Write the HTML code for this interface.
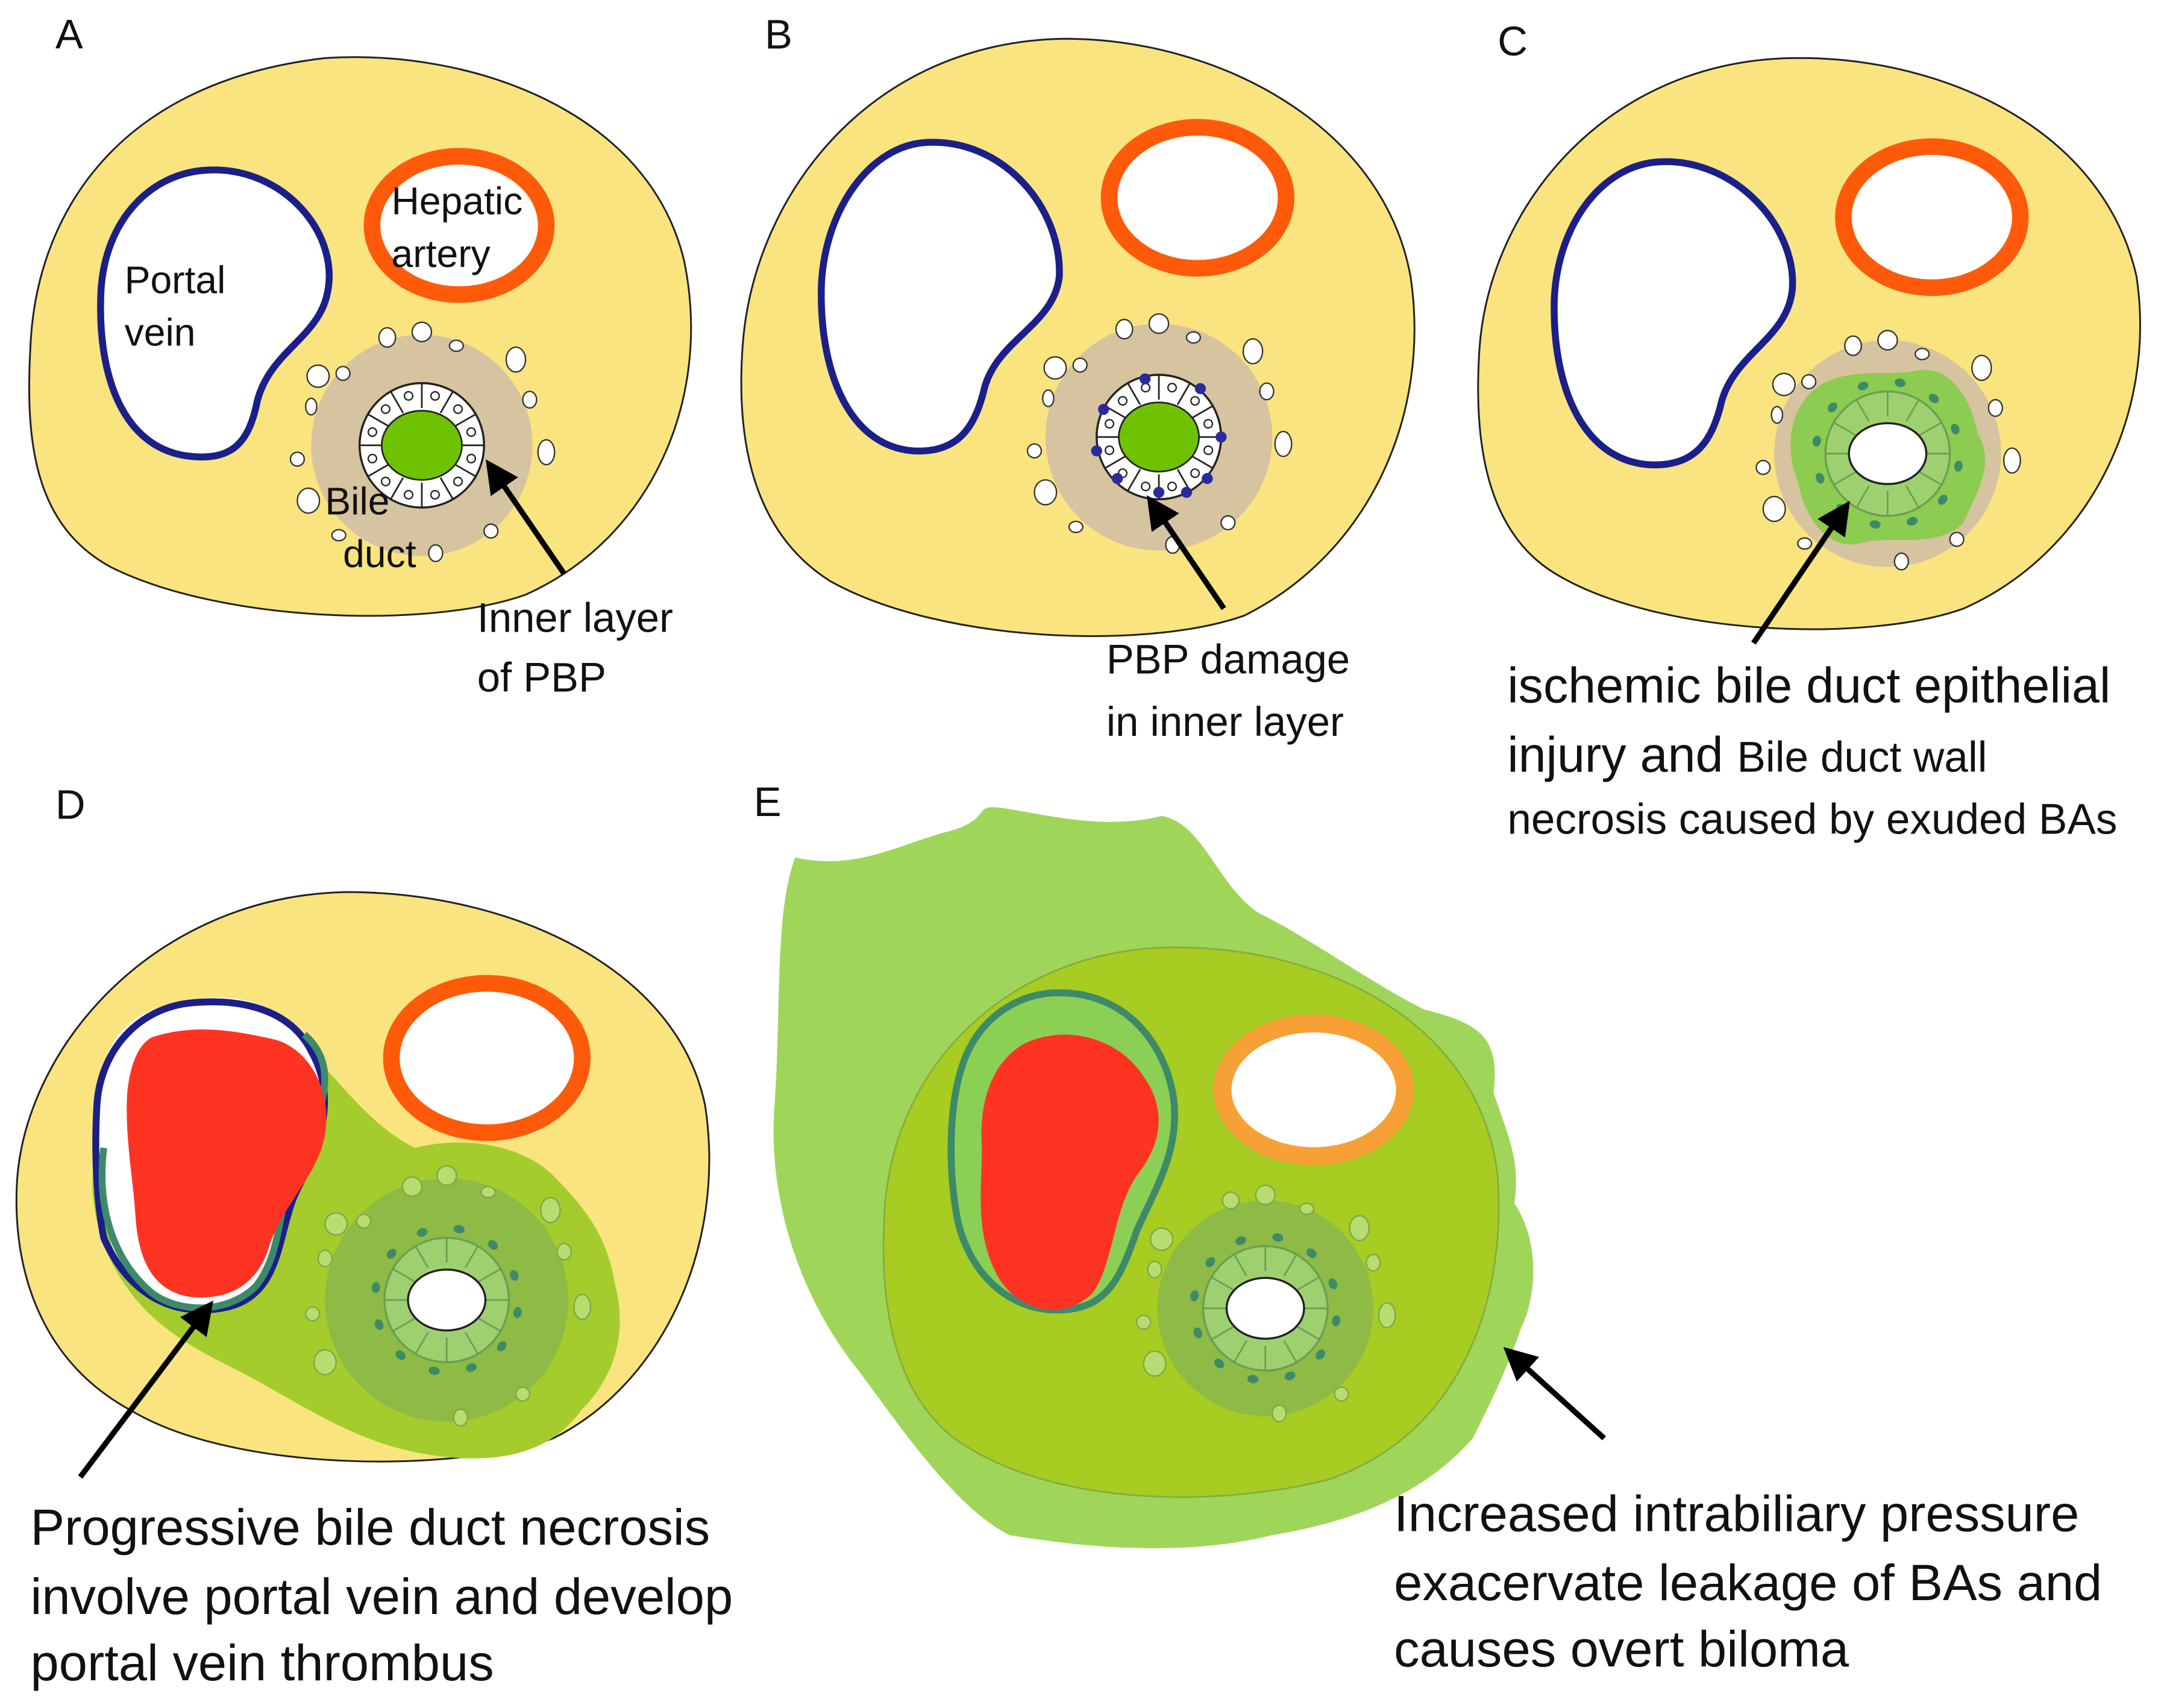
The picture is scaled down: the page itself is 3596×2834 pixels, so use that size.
<!DOCTYPE html>
<html><head><meta charset="utf-8"><style>
html,body{margin:0;padding:0;background:#fff;}
svg{display:block;}
text{font-family:"Liberation Sans",sans-serif;fill:#111;}
</style></head><body>
<svg width="3596" height="2834" viewBox="0 0 1567 1235" xmlns="http://www.w3.org/2000/svg">
<defs>
  <marker id="ah" markerWidth="6" markerHeight="6" refX="3" refY="3" orient="auto" markerUnits="strokeWidth">
    <path d="M0,0 L6,3 L0,6 Z" fill="#000"/>
  </marker>
  <g id="ring">
    <circle r="45" fill="#fff" stroke="#222" stroke-width="1.5"/>
    <g stroke="#222" stroke-width="1.2" fill="none">
      <line x1="0" y1="-27" x2="0" y2="-45"/>
      <line x1="0" y1="-27" x2="0" y2="-45" transform="rotate(30)"/>
      <line x1="0" y1="-27" x2="0" y2="-45" transform="rotate(60)"/>
      <line x1="0" y1="-27" x2="0" y2="-45" transform="rotate(90)"/>
      <line x1="0" y1="-27" x2="0" y2="-45" transform="rotate(120)"/>
      <line x1="0" y1="-27" x2="0" y2="-45" transform="rotate(150)"/>
      <line x1="0" y1="-27" x2="0" y2="-45" transform="rotate(180)"/>
      <line x1="0" y1="-27" x2="0" y2="-45" transform="rotate(210)"/>
      <line x1="0" y1="-27" x2="0" y2="-45" transform="rotate(240)"/>
      <line x1="0" y1="-27" x2="0" y2="-45" transform="rotate(270)"/>
      <line x1="0" y1="-27" x2="0" y2="-45" transform="rotate(300)"/>
      <line x1="0" y1="-27" x2="0" y2="-45" transform="rotate(330)"/>
    </g>
    <g fill="#fff" stroke="#222" stroke-width="1">
      <circle cx="0" cy="-37" r="3" transform="rotate(15)"/>
      <circle cx="0" cy="-37" r="3" transform="rotate(45)"/>
      <circle cx="0" cy="-37" r="3" transform="rotate(75)"/>
      <circle cx="0" cy="-37" r="3" transform="rotate(105)"/>
      <circle cx="0" cy="-37" r="3" transform="rotate(135)"/>
      <circle cx="0" cy="-37" r="3" transform="rotate(165)"/>
      <circle cx="0" cy="-37" r="3" transform="rotate(195)"/>
      <circle cx="0" cy="-37" r="3" transform="rotate(225)"/>
      <circle cx="0" cy="-37" r="3" transform="rotate(255)"/>
      <circle cx="0" cy="-37" r="3" transform="rotate(285)"/>
      <circle cx="0" cy="-37" r="3" transform="rotate(315)"/>
      <circle cx="0" cy="-37" r="3" transform="rotate(345)"/>
    </g>
  </g>
  <g id="gring">
    <circle r="45" fill="#9fd070" stroke="#6aa050" stroke-width="1.5"/>
    <g stroke="#6aa050" stroke-width="1.2">
      <line x1="0" y1="-27" x2="0" y2="-45"/>
      <line x1="0" y1="-27" x2="0" y2="-45" transform="rotate(30)"/>
      <line x1="0" y1="-27" x2="0" y2="-45" transform="rotate(60)"/>
      <line x1="0" y1="-27" x2="0" y2="-45" transform="rotate(90)"/>
      <line x1="0" y1="-27" x2="0" y2="-45" transform="rotate(120)"/>
      <line x1="0" y1="-27" x2="0" y2="-45" transform="rotate(150)"/>
      <line x1="0" y1="-27" x2="0" y2="-45" transform="rotate(180)"/>
      <line x1="0" y1="-27" x2="0" y2="-45" transform="rotate(210)"/>
      <line x1="0" y1="-27" x2="0" y2="-45" transform="rotate(240)"/>
      <line x1="0" y1="-27" x2="0" y2="-45" transform="rotate(270)"/>
      <line x1="0" y1="-27" x2="0" y2="-45" transform="rotate(300)"/>
      <line x1="0" y1="-27" x2="0" y2="-45" transform="rotate(330)"/>
    </g>
    <g fill="#3d8a6a">
      <ellipse cx="0" cy="-52" rx="4" ry="3" transform="rotate(10)"/>
      <ellipse cx="0" cy="-52" rx="4" ry="3" transform="rotate(40)"/>
      <ellipse cx="0" cy="-52" rx="4" ry="3" transform="rotate(70)"/>
      <ellipse cx="0" cy="-52" rx="4" ry="3" transform="rotate(100)"/>
      <ellipse cx="0" cy="-52" rx="4" ry="3" transform="rotate(130)"/>
      <ellipse cx="0" cy="-52" rx="4" ry="3" transform="rotate(160)"/>
      <ellipse cx="0" cy="-52" rx="4" ry="3" transform="rotate(190)"/>
      <ellipse cx="0" cy="-52" rx="4" ry="3" transform="rotate(220)"/>
      <ellipse cx="0" cy="-52" rx="4" ry="3" transform="rotate(250)"/>
      <ellipse cx="0" cy="-52" rx="4" ry="3" transform="rotate(280)"/>
      <ellipse cx="0" cy="-52" rx="4" ry="3" transform="rotate(310)"/>
      <ellipse cx="0" cy="-52" rx="4" ry="3" transform="rotate(340)"/>
    </g>
    <ellipse rx="28" ry="22" fill="#fff" stroke="#222" stroke-width="1.5"/>
  </g>
  <g id="dots" fill="#fff" stroke="#333" stroke-width="1">
    <ellipse cx="-25" cy="-78" rx="6" ry="7"/><ellipse cx="0" cy="-82" rx="7" ry="7"/>
    <ellipse cx="25" cy="-72" rx="5" ry="4"/><ellipse cx="68" cy="-62" rx="7" ry="9"/>
    <ellipse cx="-75" cy="-50" rx="8" ry="8"/><ellipse cx="-57" cy="-52" rx="5" ry="5"/>
    <ellipse cx="-80" cy="-28" rx="4" ry="6"/><ellipse cx="78" cy="-33" rx="5" ry="6"/>
    <ellipse cx="90" cy="5" rx="6" ry="9"/><ellipse cx="-90" cy="10" rx="5" ry="5"/>
    <ellipse cx="-82" cy="40" rx="8" ry="9"/><ellipse cx="-60" cy="65" rx="5" ry="4"/>
    <ellipse cx="50" cy="62" rx="5" ry="5"/><ellipse cx="10" cy="78" rx="5" ry="6"/>
  </g>
</defs>

<!-- Panel A -->
<text x="40" y="35" font-size="30">A</text>
<path d="M235,42 C340,35 470,80 495,190 C515,290 470,390 380,430 C310,455 160,450 80,410 C25,380 18,320 22,250 C26,160 80,60 235,42 Z" fill="#f9e47f" stroke="#222" stroke-width="1.3"/>
<path d="M150,123 C205,120 248,170 236,215 C228,245 195,255 186,290 C180,320 168,333 138,330 C88,325 70,270 73,210 C76,160 108,125 150,123 Z" fill="#fff" stroke="#1b1f8a" stroke-width="5"/>
<ellipse cx="332" cy="163" rx="63" ry="50" fill="#fff" stroke="#ff5a0a" stroke-width="12"/>
<g transform="translate(305,322)">
  <circle r="80" fill="#d6c39f"/>
  <use href="#dots"/>
  <use href="#ring"/>
  <ellipse rx="29" ry="25" fill="#6fc200" stroke="#222" stroke-width="1.2"/>
</g>
<text x="90" y="212" font-size="28">Portal</text>
<text x="90" y="250" font-size="28">vein</text>
<text x="283" y="155" font-size="28">Hepatic</text>
<text x="283" y="193" font-size="28">artery</text>
<text x="235" y="372" font-size="28">Bile</text>
<text x="248" y="410" font-size="28">duct</text>
<line x1="408" y1="415" x2="358" y2="342" stroke="#000" stroke-width="4" marker-end="url(#ah)"/>
<text x="345" y="457" font-size="30">Inner layer</text>
<text x="345" y="500" font-size="30">of PBP</text>

<!-- Panel B -->
<text x="553" y="35" font-size="30">B</text>
<path d="M770,28 C880,28 1000,90 1020,200 C1035,300 990,400 900,445 C830,470 680,465 600,420 C545,385 532,320 537,250 C545,140 630,30 770,28 Z" fill="#f9e47f" stroke="#222" stroke-width="1.3"/>
<path d="M670,103 C725,100 768,150 766,200 C762,235 722,245 712,280 C705,310 692,328 660,326 C612,322 592,265 594,205 C597,150 630,105 670,103 Z" fill="#fff" stroke="#1b1f8a" stroke-width="5"/>
<ellipse cx="866" cy="143" rx="64" ry="51" fill="#fff" stroke="#ff5a0a" stroke-width="12"/>
<g transform="translate(838,316)">
  <circle r="82" fill="#d6c39f"/>
  <use href="#dots"/>
  <use href="#ring"/>
  <g fill="#2a2aa0"><circle cx="-40" cy="-20" r="4"/><circle cx="-45" cy="10" r="4"/><circle cx="-30" cy="30" r="4"/><circle cx="0" cy="40" r="4"/><circle cx="30" cy="-35" r="4"/><circle cx="45" cy="0" r="4"/><circle cx="35" cy="30" r="4"/><circle cx="-10" cy="-42" r="4"/><circle cx="20" cy="40" r="4"/></g>
  <ellipse rx="29" ry="25" fill="#6fc200" stroke="#222" stroke-width="1.2"/>
</g>
<line x1="885" y1="440" x2="836" y2="368" stroke="#000" stroke-width="4" marker-end="url(#ah)"/>
<text x="800" y="487" font-size="30">PBP damage</text>
<text x="800" y="532" font-size="30">in inner layer</text>

<!-- Panel C -->
<text x="1083" y="40" font-size="30">C</text>
<path d="M1295,42 C1400,40 1520,90 1545,200 C1560,300 1510,400 1420,440 C1350,465 1200,460 1125,415 C1075,385 1065,320 1070,250 C1078,150 1160,45 1295,42 Z" fill="#f9e47f" stroke="#222" stroke-width="1.3"/>
<path d="M1200,117 C1255,114 1300,165 1296,210 C1292,245 1255,255 1245,290 C1238,320 1225,338 1192,336 C1142,332 1122,275 1124,215 C1127,160 1160,119 1200,117 Z" fill="#fff" stroke="#1b1f8a" stroke-width="5"/>
<ellipse cx="1397" cy="157" rx="64" ry="51" fill="#fff" stroke="#ff5a0a" stroke-width="12"/>
<g transform="translate(1365,328)">
  <circle r="82" fill="#d6c39f"/>
  <use href="#dots"/>
  <path d="M-55,-45 C-30,-65 0,-55 20,-60 C45,-65 60,-40 65,-15 C80,10 60,35 55,50 C35,70 0,58 -20,65 C-45,70 -60,45 -65,20 C-75,-5 -70,-30 -55,-45 Z" fill="#8ccc50"/>
  <use href="#gring"/>
</g>
<line x1="1268" y1="465" x2="1331" y2="372" stroke="#000" stroke-width="4" marker-end="url(#ah)"/>
<text x="1090" y="508" font-size="36">ischemic bile duct epithelial</text>
<text x="1090" y="558" font-size="36">injury and <tspan font-size="31">Bile duct wall</tspan></text>
<text x="1090" y="603" font-size="31">necrosis caused by exuded BAs</text>

<!-- Panel D -->
<text x="40" y="592" font-size="30">D</text>
<path d="M250,645 C370,645 490,700 510,800 C525,900 480,1000 400,1040 C330,1065 170,1065 95,1020 C30,985 10,920 12,860 C15,760 110,648 250,645 Z" fill="#f9e47f" stroke="#222" stroke-width="1.3"/>
<ellipse cx="352" cy="765" rx="69" ry="54" fill="#fff" stroke="#ff5a0a" stroke-width="12"/>
<path d="M70,835 C100,830 150,800 210,750 C240,770 260,810 300,830 C340,820 380,830 400,850 C430,880 440,900 445,930 C455,970 440,1000 420,1020 C395,1055 350,1060 300,1050 C250,1040 210,1010 170,990 C130,970 95,950 75,900 C65,870 65,850 70,835 Z" fill="#a3cc2c"/>
<path d="M145,722 C190,717 225,740 232,775 C240,810 220,850 210,880 C200,920 190,945 150,945 C110,945 85,925 78,890 C70,850 68,800 75,770 C85,735 115,725 145,722 Z" fill="#fff"/>
<path d="M140,725 C175,722 210,730 225,760 C245,795 230,830 215,860 C200,890 205,935 165,945 C120,955 90,930 75,895 C70,870 68,835 70,800 C72,760 100,728 140,725 Z" fill="none" stroke="#1b1f8a" stroke-width="5"/>
<path d="M75,830 C70,870 80,910 110,935 C130,950 165,950 185,930 C205,905 200,870 215,840 C235,800 245,770 220,748" fill="none" stroke="#3d8a6a" stroke-width="5"/>
<path d="M110,750 C140,740 170,745 200,752 C225,760 240,790 235,820 C230,850 205,870 195,900 C188,925 170,940 140,938 C110,935 100,910 98,880 C96,850 90,820 92,790 C94,770 100,755 110,750 Z" fill="#ff3322"/>
<g transform="translate(323,940)">
  <circle r="88" fill="#8eba46"/>
  <g fill="#b8dc70" stroke="#7aa848" stroke-width="1"><ellipse cx="-25" cy="-82" rx="7" ry="7"/><ellipse cx="0" cy="-90" rx="7" ry="7"/><ellipse cx="30" cy="-78" rx="5" ry="4"/><ellipse cx="75" cy="-65" rx="7" ry="9"/><ellipse cx="-80" cy="-55" rx="8" ry="8"/><ellipse cx="-60" cy="-57" rx="5" ry="5"/><ellipse cx="-88" cy="-30" rx="5" ry="6"/><ellipse cx="85" cy="-35" rx="5" ry="6"/><ellipse cx="98" cy="5" rx="6" ry="9"/><ellipse cx="-97" cy="10" rx="5" ry="5"/><ellipse cx="-88" cy="45" rx="8" ry="9"/><ellipse cx="55" cy="68" rx="5" ry="5"/><ellipse cx="10" cy="85" rx="5" ry="6"/></g>
  <use href="#gring"/>
</g>
<line x1="58" y1="1068" x2="147" y2="950" stroke="#000" stroke-width="4" marker-end="url(#ah)"/>
<text x="22" y="1117" font-size="37">Progressive bile duct necrosis</text>
<text x="22" y="1167" font-size="37">involve portal vein and develop</text>
<text x="22" y="1215" font-size="37">portal vein thrombus</text>

<!-- Panel E -->
<text x="545" y="590" font-size="30">E</text>
<path d="M575,620 C620,630 650,610 690,600 C720,590 700,580 730,585 C760,590 800,600 840,590 C870,595 880,640 910,660 C950,680 990,710 1030,730 C1070,740 1085,750 1080,790 C1090,820 1100,840 1095,870 C1115,900 1110,940 1100,960 C1090,990 1075,1020 1065,1040 C1030,1080 980,1100 920,1110 C860,1125 790,1120 730,1110 C690,1090 650,1030 620,990 C580,940 555,870 560,800 C565,730 560,660 575,620 Z" fill="#9fd65a"/>
<path d="M850,685 C960,685 1070,740 1083,850 C1090,950 1050,1040 960,1070 C880,1090 760,1090 690,1040 C645,1005 635,940 640,870 C650,760 740,685 850,685 Z" fill="#a7cc22" stroke="#88aa40" stroke-width="1.2"/>
<ellipse cx="950" cy="788" rx="66" ry="48" fill="#fff" stroke="#f7a035" stroke-width="13"/>
<path d="M760,718 C810,715 840,750 848,790 C855,830 835,860 822,890 C810,925 800,945 770,947 C730,950 700,920 692,880 C685,840 686,790 700,760 C712,735 735,720 760,718 Z" fill="#8ccf55" stroke="#3d8a6a" stroke-width="5"/>
<path d="M740,755 C770,740 810,750 828,780 C845,805 838,830 822,850 C805,875 805,915 790,935 C770,955 735,950 720,920 C705,890 710,860 710,830 C708,800 715,770 740,755 Z" fill="#ff3322"/>
<g transform="translate(915,946)">
  <circle r="78" fill="#8eba46"/>
  <g fill="#b8dc70" stroke="#7aa848" stroke-width="1"><ellipse cx="-25" cy="-78" rx="6" ry="6"/><ellipse cx="0" cy="-82" rx="7" ry="7"/><ellipse cx="30" cy="-72" rx="5" ry="4"/><ellipse cx="68" cy="-58" rx="7" ry="9"/><ellipse cx="-75" cy="-50" rx="8" ry="8"/><ellipse cx="-80" cy="-28" rx="5" ry="6"/><ellipse cx="78" cy="-33" rx="5" ry="6"/><ellipse cx="88" cy="5" rx="6" ry="9"/><ellipse cx="-88" cy="10" rx="5" ry="5"/><ellipse cx="-80" cy="40" rx="8" ry="9"/><ellipse cx="55" cy="62" rx="5" ry="5"/><ellipse cx="10" cy="76" rx="5" ry="6"/></g>
  <use href="#gring"/>
</g>
<line x1="1160" y1="1040" x2="1096" y2="982" stroke="#000" stroke-width="4" marker-end="url(#ah)"/>
<text x="1008" y="1107" font-size="37">Increased intrabiliary pressure</text>
<text x="1008" y="1157" font-size="37">exacervate leakage of BAs and</text>
<text x="1008" y="1205" font-size="37">causes overt biloma</text>
</svg>
</body></html>
